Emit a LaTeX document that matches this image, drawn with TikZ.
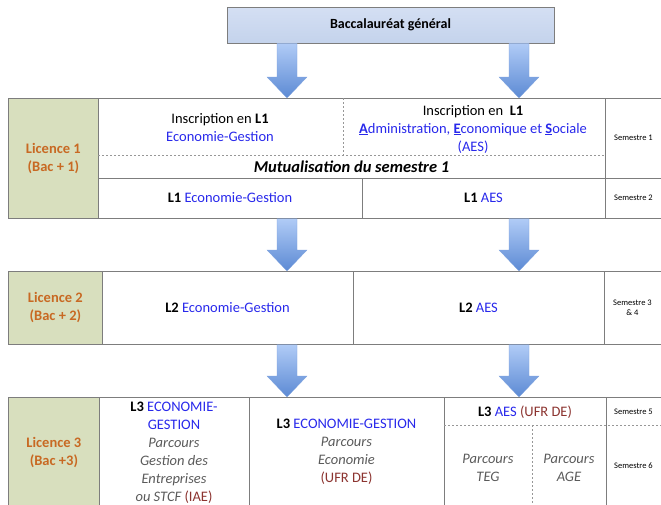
\documentclass[tikz,border=0pt]{standalone}
\usepackage{fontspec}
\setmainfont{Carlito}
\usetikzlibrary{positioning,calc}

\definecolor{gridgray}{RGB}{125,125,125}
\definecolor{licgreen}{RGB}{216,223,190}
\definecolor{licorange}{RGB}{200,105,35}
\definecolor{egblue}{RGB}{40,40,235}
\definecolor{ufrred}{RGB}{140,52,48}
\definecolor{parcgray}{RGB}{90,90,90}
\definecolor{bactop}{RGB}{212,223,243}
\definecolor{bacbot}{RGB}{196,211,236}
\definecolor{arrtop}{RGB}{176,203,246}
\definecolor{arrbot}{RGB}{92,138,212}

\newcommand{\eg}[1]{\textcolor{egblue}{#1}}
\newcommand{\ufr}[1]{\textcolor{ufrred}{#1}}
\newcommand{\initial}[1]{\underline{\textbf{#1}}}

% big shaded arrow between two points
\newcommand{\blockarrow}[2]{%
  \shade[arrowfill] let \p1=(#1), \p2=(#2) in
    (\x1-10pt,\y1) -- (\x1+10pt,\y1) -- (\x1+10pt,\y2+21pt) -- (\x1+20pt,\y2+21pt)
    -- (\x1,\y2) -- (\x1-20pt,\y2+21pt) -- (\x1-10pt,\y2+21pt) -- cycle;}

\begin{document}
\begin{tikzpicture}[
  x=1pt, y=-1pt,
  line width=0.8pt,
  txt/.style={
     font=\fontsize{14.5}{18}\selectfont,
     align=center,
     inner sep=0pt
  },
  parc/.style={
     txt,
     text=parcgray,
     font=\itshape\fontsize{14.5}{18}\selectfont
  },
  sem/.style={
     font=\fontsize{8.5}{10.5}\selectfont,
     align=center,
     inner sep=0pt
  },
  lic/.style={
     draw=gridgray,
     fill=licgreen,
     anchor=north west,
     text=licorange,
     font=\bfseries\fontsize{14.5}{18}\selectfont,
     align=center,
     inner sep=0pt
  },
  rowframe/.style={
     draw=gridgray,
     anchor=north west,
     minimum width=720,
     inner sep=0pt
  },
  bacbox/.style={
     draw=gridgray,
     top color=bactop,
     bottom color=bacbot,
     minimum width=327,
     minimum height=36,
     font=\bfseries\fontsize{14}{17}\selectfont
  },
  gridline/.style={draw=gridgray},
  dotline/.style={draw=gridgray!80, dash pattern=on 2pt off 2pt, line width=0.6pt},
  arrowfill/.style={top color=arrtop, bottom color=arrbot, draw=arrbot!80!white, line width=0.3pt}
]

\path[use as bounding box, clip] (0,0) rectangle (661,504);

\node[bacbox] (bac) at (390.5,25) {Baccalauréat général};

% rows
\node[rowframe, minimum height=120] (row1) at (8,98)  {};
\node[rowframe, minimum height=73]  (row2) at (8,271) {};
\node[rowframe, minimum height=130] (row3) at (8,397) {};

\node[lic, minimum width=90, minimum height=120] (lic1) at (row1.north west) {Licence 1\\(Bac + 1)};
\node[lic, minimum width=94, minimum height=73]  (lic2) at (row2.north west) {Licence 2\\(Bac + 2)};
\node[lic, minimum width=91, minimum height=110] (lic3) at (row3.north west) {Licence 3\\(Bac +3)};

% L1 grid
\draw[dotline] (98,155) -- (605,155);
\draw[dotline] (343,98) -- (343,155);
\draw[gridline] (98,178) -- (700,178);
\draw[gridline] (362,178) -- (362,218);
\draw[gridline] (605,98) -- (605,218);

% L2 grid
\draw[gridline] (353,271) -- (353,344);
\draw[gridline] (604,271) -- (604,344);

% L3 grid
\draw[gridline] (249,397) -- (249,520);
\draw[gridline] (444,397) -- (444,520);
\draw[gridline] (606,397) -- (606,520);
\draw[dotline] (444,425) -- (700,425);
\draw[dotline] (532,425) -- (532,520);

% L1 texts
\node[txt] (ins1eg)  at (220,128) {Inscription en \textbf{L1}\\\eg{Economie-Gestion}};
\node[txt] (ins1aes) at (473,129) {Inscription en \ \textbf{L1}\\\eg{\initial{A}dministration, \initial{E}conomique et \initial{S}ociale}\\\eg{(AES)}};
\node[txt, font=\bfseries\itshape\fontsize{16.5}{20}\selectfont] (mutu) at (351.5,167) {Mutualisation du semestre 1};
\node[txt] (l1eg)  at (230,198)   {\textbf{L1} \eg{Economie-Gestion}};
\node[txt] (l1aes) at (483.5,198) {\textbf{L1} \eg{AES}};
\node[sem] (sem1) at (633.5,138) {Semestre 1};
\node[sem] (sem2) at (633.5,198) {Semestre 2};

% L2 texts
\node[txt] (l2eg)  at (227.5,308) {\textbf{L2} \eg{Economie-Gestion}};
\node[txt] (l2aes) at (478.5,308) {\textbf{L2} \eg{AES}};
\node[sem] (sem34) at (632.5,308) {Semestre 3\\\& 4};

% L3 texts
\node[txt] (l3iae) at (174,453) {\textbf{L3} \eg{ECONOMIE-}\\\eg{GESTION}\\{\color{parcgray}\itshape Parcours}\\{\color{parcgray}\itshape Gestion des}\\{\color{parcgray}\itshape Entreprises}\\{\color{parcgray}\itshape ou STCF} \ufr{(IAE)}};
\node[txt] (l3eco) at (346.5,452) {\textbf{L3} \eg{ECONOMIE-GESTION}\\{\color{parcgray}\itshape Parcours}\\{\color{parcgray}\itshape Economie}\\\ufr{(UFR DE)}};
\node[txt] (l3aes) at (525,412) {\textbf{L3} \eg{AES} \ufr{(UFR DE)}};
\node[parc] (teg) at (488,467.5) {Parcours\\TEG};
\node[parc] (age) at (569,467.5) {Parcours\\AGE};
\node[sem] (sem5) at (633.5,412) {Semestre 5};
\node[sem] (sem6) at (633.5,466) {Semestre 6};

% arrows
\coordinate (colA) at (287,0);
\coordinate (colB) at (519,0);
\blockarrow{bac.south -| colA}{row1.north -| colA}
\blockarrow{bac.south -| colB}{row1.north -| colB}
\blockarrow{row1.south -| colA}{row2.north -| colA}
\blockarrow{row1.south -| colB}{row2.north -| colB}
\blockarrow{row2.south -| colA}{row3.north -| colA}
\blockarrow{row2.south -| colB}{row3.north -| colB}

\end{tikzpicture}
\end{document}
